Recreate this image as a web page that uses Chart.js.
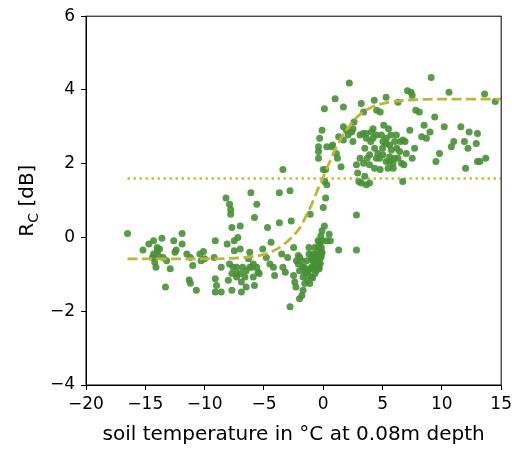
<!DOCTYPE html>
<html lang="en">
<head>
  <meta charset="UTF-8">
  <title>Rc vs soil temperature</title>
  <script src="https://cdn.jsdelivr.net/npm/chart.js"></script>
  <style>
    body { margin: 0; background: #fff; }
    #wrap { width: 516px; height: 449px; }
  </style>
</head>
<body>
  <div id="wrap"><canvas id="rcChart" width="516" height="449"></canvas></div>
  <script>
    // measured points (soil temperature, Rc)
    const tempX = [
      -16.5,-15.2,-14.7,-14.3,-14.0,-13.6,-14.3,-13.9,-14.2,-14.1,-13.5,-13.2,-12.9,-13.3,-12.6,-12.4,-11.9,-11.9,-11.5,-11.2,
      -11.3,-11.2,-11.0,-10.7,-10.4,-10.1,-10.3,-10.0,-9.1,-9.2,-9.1,-9.0,-9.1,-8.6,-8.6,-8.2,-7.9,-7.8,-7.8,-8.1,
      -7.7,-7.9,-8.0,-7.7,-7.5,-7.2,-7.0,-7.0,-7.3,-7.0,-6.9,-6.9,-6.5,-6.5,-6.3,-6.2,-6.1,-5.8,-5.6,-5.6,
      -5.8,-5.9,-5.5,-5.1,-4.8,-4.7,-4.5,-4.4,-4.2,-4.1,-3.7,-3.7,-3.4,-3.5,-3.4,-3.2,-3.0,-2.8,-2.7,-2.5,
      -2.8,-2.5,-2.4,-2.3,-2.1,-2.1,-2.0,-2.0,-1.8,-1.7,-1.7,-1.6,-1.4,-1.3,-1.2,-1.2,-1.1,-1.0,-0.9,-0.7,
      -0.6,-0.4,-0.4,-0.3,-0.2,-0.2,-0.1,0.0,0.1,0.2,0.3,0.5,0.6,0.3,0.0,1.3,2.8,2.8,
      -0.86,-0.72,-0.58,-0.44,-0.30,-0.16,-0.35,-0.58,-0.86,-1.0,-1.28,-1.56,-1.14,-1.42,-1.70,-1.84,-1.98,-2.26,-0.30,-0.16,
      -0.07,-0.44,-0.72,-1.0,
      -14.0,-13.8,-14.4,-12.5,-7.6,-7.3,-6.8,-6.6,-6.2,-5.9,-7.5,-6.0,-7.7,-7.3,-5.4,
      -0.3,-0.4,-0.4,-0.4,-0.1,0.1,0.3,0.7,1.0,0.8,1.1,1.2,1.3,1.5,1.7,1.7,1.7,2.2,2.4,2.5,
      2.6,2.8,2.9,3.1,3.1,3.2,3.4,3.4,3.5,3.6,3.7,3.9,3.9,3.0,3.5,4.0,4.2,4.3,4.5,4.6,
      4.8,4.8,4.9,5.0,5.1,5.3,5.3,5.3,5.5,5.6,5.7,5.9,6.0,6.2,6.3,6.5,6.6,6.7,6.8,6.9,
      7.1,7.3,7.4,7.5,7.5,7.7,7.8,8.1,8.3,8.5,8.7,9.0,9.1,9.4,9.5,9.8,10.2,10.6,10.8,11.0,
      11.6,11.9,12.0,12.2,12.3,12.9,13.0,13.0,13.2,13.6,13.7,14.5,
      4.05,4.33,4.47,5.03,5.32,5.60,5.74,6.02,6.16,6.44,5.03,4.75,4.47,4.19,3.63,3.35,3.91,5.46,5.60,5.88,
      6.30,6.72,7.0,1.95,2.09,2.51,4.33,3.21,3.63,0.12,0.2,
      -0.5,-0.25,-0.1,-0.6,-0.8,-0.2,-1.1,-1.5,-0.9,-0.35
    ];
    const rcY = [
      0.11,-0.34,-0.18,-0.09,-0.27,-0.02,-0.45,-0.49,-0.67,-0.81,-0.54,-0.63,-0.85,-1.34,-0.09,-0.34,-0.18,0.11,-0.45,-0.54,
      -1.15,-1.24,-0.76,-1.43,-0.45,-0.38,-0.63,-0.58,-0.09,-0.54,-1.12,-1.30,-1.48,-1.48,-0.81,1.07,0.90,0.76,0.63,-0.18,
      0.27,-0.72,-1.16,-1.43,-0.09,0.0,-0.31,0.31,-0.81,-0.98,-1.21,-1.48,-0.90,-1.34,-0.58,-0.40,1.21,0.54,0.90,-0.81,
      -1.30,-0.72,-0.94,-0.31,-0.54,0.27,-0.72,-0.13,-0.81,-1.03,0.40,1.21,1.84,-0.45,-0.81,-0.94,-0.54,1.27,0.45,-0.27,
      -1.88,-1.03,-1.21,-1.34,-0.49,-0.72,-0.90,-1.66,-1.57,-1.43,-1.07,-0.81,-0.63,-0.94,-0.45,-0.27,0.63,-0.81,-0.63,-0.98,
      -0.45,-0.72,-0.27,-0.13,-0.54,0.04,0.18,0.81,0.31,1.07,-0.09,0.09,-0.09,1.43,1.84,-0.34,0.61,-0.34,
      -0.45,-0.27,-0.63,-0.45,-0.36,-0.45,-0.81,-0.81,-0.81,-1.07,-1.16,-1.25,-1.25,-0.98,-0.81,-0.63,-0.54,-0.63,-0.18,-0.27,
      -0.09,-0.09,-0.72,-0.54,
      -0.36,-0.31,-0.54,-0.40,-0.81,-0.98,-0.81,-1.07,-0.81,-1.07,-0.36,-0.81,-0.98,-1.07,-0.98,
      2.69,2.46,2.33,2.15,2.91,3.49,2.46,2.46,3.76,2.51,2.28,2.15,2.73,1.92,3.54,3.00,2.64,4.19,2.86,2.60,
      3.13,1.97,1.75,2.15,2.78,3.63,3.40,2.01,2.42,2.82,2.15,1.97,1.48,1.52,1.66,2.60,2.95,3.72,3.45,2.28,
      3.40,1.84,2.78,2.42,3.04,3.80,2.06,2.55,2.95,2.19,2.78,1.88,2.15,2.42,3.67,2.60,2.01,1.52,1.97,2.60,
      3.98,2.91,3.94,3.85,2.15,2.42,3.45,3.40,2.73,3.04,2.69,2.86,4.34,3.27,2.06,2.28,3.00,3.94,2.46,2.60,
      3.00,2.60,1.88,2.42,2.86,2.55,2.82,2.06,2.06,3.89,2.15,3.69,
      2.86,2.42,2.15,2.60,2.69,2.51,2.37,2.60,2.78,2.33,2.24,2.15,2.78,2.69,2.69,2.82,2.24,1.88,2.06,2.01,
      2.15,2.64,2.28,2.91,2.78,2.95,1.88,1.48,1.43,1.52,1.84,
      -0.6,-0.7,-0.4,-0.9,-0.6,-0.5,-0.85,-0.95,-1.1,-0.85
    ];

    // fitted curve
    const fitX = [-16.5, -12, -10, -8, -7, -6, -5, -4, -3, -2, -1.5, -1, -0.5, 0, 0.5, 1, 1.5, 2, 3, 4, 5, 6, 7, 8, 10, 12, 15];
    const fitY = [-0.58, -0.58, -0.58, -0.57, -0.55, -0.52, -0.46, -0.33, -0.1, 0.25, 0.55, 0.88, 1.27, 1.64, 2.02, 2.38, 2.69, 2.94, 3.31, 3.52, 3.63, 3.69, 3.72, 3.74, 3.75, 3.75, 3.75];

    // horizontal threshold (dotted)
    const threshX = [-16.5, 15];
    const threshY = 1.6;

    const xTicks = [-20, -15, -10, -5, 0, 5, 10, 15];
    const yTicks = [-4, -2, 0, 2, 4, 6];

    const points = tempX.map((x, i) => ({ x: x, y: rcY[i] }));
    const fitPts = fitX.map((x, i) => ({ x: x, y: fitY[i] }));
    const threshPts = threshX.map(x => ({ x: x, y: threshY }));

    const FONT = "'DejaVu Sans', sans-serif";
    const minus = v => String(v).replace('-', '\u2212');

    // frame on all four sides + y title with subscript
    const extras = {
      id: 'extras',
      afterDraw(chart) {
        const { ctx, chartArea: a } = chart;
        ctx.save();
        ctx.strokeStyle = '#000';
        ctx.lineWidth = 1;
        ctx.strokeRect(a.left, a.top, a.right - a.left, a.bottom - a.top);

        ctx.fillStyle = '#000';
        ctx.textBaseline = 'alphabetic';
        ctx.translate(33, (a.top + a.bottom) / 2);
        ctx.rotate(-Math.PI / 2);
        const big = '20px ' + FONT, small = '14px ' + FONT;
        ctx.font = big;
        const wR = ctx.measureText('R').width;
        const wRest = ctx.measureText(' [dB]').width;
        ctx.font = small;
        const wC = ctx.measureText('C').width;
        let x0 = -(wR + wC + wRest) / 2;
        ctx.font = big;
        ctx.fillText('R', x0, 0);
        ctx.font = small;
        ctx.fillText('C', x0 + wR, 5);
        ctx.font = big;
        ctx.fillText(' [dB]', x0 + wR + wC, 0);
        ctx.restore();
      }
    };

    new Chart(document.getElementById('rcChart'), {
      type: 'scatter',
      data: {
        datasets: [
          {
            data: points,
            backgroundColor: 'rgba(70,145,52,0.9)',
            borderWidth: 0,
            pointRadius: 3.5,
            order: 1
          },
          {
            type: 'line',
            data: fitPts,
            borderColor: '#bdb736',
            borderWidth: 2.8,
            borderDash: [10, 4.5],
            pointRadius: 0,
            fill: false,
            cubicInterpolationMode: 'monotone',
            order: 0
          },
          {
            type: 'line',
            data: threshPts,
            borderColor: '#c0c038',
            borderWidth: 2.4,
            borderDash: [2.4, 3.6],
            pointRadius: 0,
            fill: false,
            order: 2
          }
        ]
      },
      options: {
        responsive: false,
        animation: false,
        layout: { padding: { top: 13, right: 14, left: 0, bottom: 2 } },
        plugins: { legend: { display: false }, tooltip: { enabled: false } },
        scales: {
          x: {
            type: 'linear',
            min: -20, max: 15,
            afterBuildTicks: s => { s.ticks = xTicks.map(v => ({ value: v })); },
            afterFit: s => { s.height = 62; },
            grid: { drawOnChartArea: false, drawTicks: true, tickLength: 5, color: '#000' },
            border: { color: '#000' },
            ticks: { color: '#000', padding: 4, font: { family: FONT, size: 17 }, callback: v => minus(v), maxRotation: 0 },
            title: { display: true, text: 'soil temperature in \u00b0C at 0.08m depth', color: '#000',
                     font: { family: FONT, size: 20 }, padding: { top: 2, bottom: 0 } }
          },
          y: {
            min: -4, max: 6,
            afterBuildTicks: s => { s.ticks = yTicks.map(v => ({ value: v })); },
            afterFit: s => { s.width = 86; },
            grid: { drawOnChartArea: false, drawTicks: true, tickLength: 5, color: '#000' },
            border: { color: '#000' },
            ticks: { color: '#000', padding: 6, font: { family: FONT, size: 17 }, callback: v => minus(v) }
          }
        }
      },
      plugins: [extras]
    });
  </script>
</body>
</html>
